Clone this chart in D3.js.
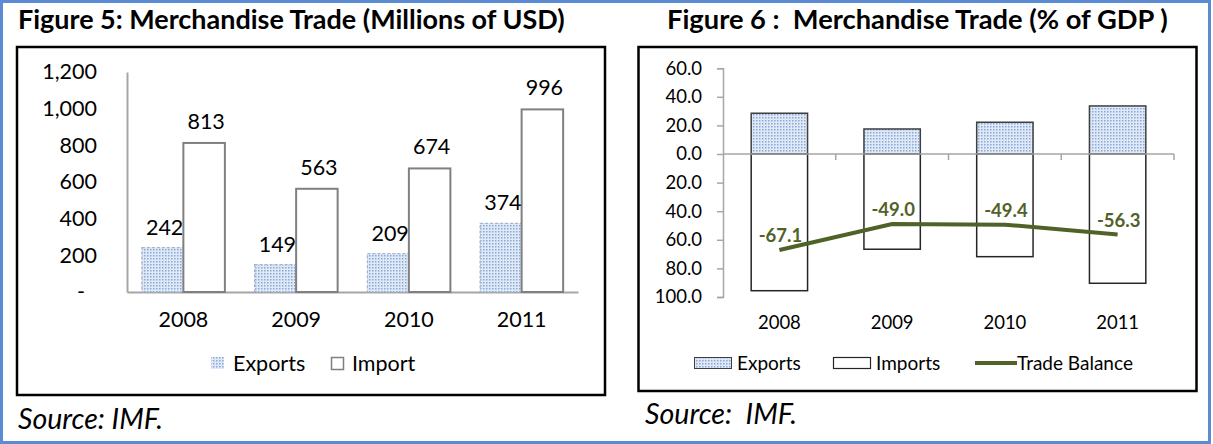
<!DOCTYPE html>
<html>
<head>
<meta charset="utf-8">
<style>
  body { margin: 0; background: #fff; }
  svg { font-family: Lato, "Open Sans", sans-serif; }
  .axis path, .axis line { stroke: #a6a6a6; }
  .axis text { fill: #000; }
</style>
</head>
<body>
<script src="https://cdn.jsdelivr.net/npm/d3@7"></script>
<script>
// data
var years = ["2008", "2009", "2010", "2011"];
var exportsUSD = [242, 149, 209, 374];
var importsUSD = [813, 563, 674, 996];
var usdTicks = [0, 200, 400, 600, 800, 1000, 1200];

var exportsGDP = [28.5, 17.5, 22.2, 33.6];
var importsGDP = [95.6, 66.6, 71.8, 90.4];
var balanceGDP = [-67.1, -49.0, -49.4, -56.3];
var gdpTicks = [60, 40, 20, 0, -20, -40, -60, -80, -100];

var green = "#4f6228";
// plain hyphen for negative numbers, like the original
var fmt1 = d3.formatLocale({ decimal: ".", thousands: ",", grouping: [3], currency: ["", ""], minus: "-" }).format(".1f");

var svg = d3.select("body").append("svg")
    .attr("width", 1213)
    .attr("height", 444);

// dotted fill used for exports
var defs = svg.append("defs");
var pat = defs.append("pattern")
    .attr("id", "dots")
    .attr("patternUnits", "userSpaceOnUse")
    .attr("width", 3).attr("height", 3);
pat.append("rect").attr("width", 3).attr("height", 3).attr("fill", "#e0e9f5");
pat.append("rect").attr("width", 1.5).attr("height", 1.5).attr("fill", "#86a9da");

// outer blue border
svg.append("rect")
    .attr("x", 1.5).attr("y", 1.5)
    .attr("width", 1208).attr("height", 441)
    .attr("fill", "#fff")
    .attr("stroke", "#5b8bd3")
    .attr("stroke-width", 3);

// make a text fill a given width
function fit(sel, w) {
    var fs = parseFloat(sel.attr("font-size"));
    var len = sel.node().getComputedTextLength();
    sel.attr("font-size", fs * w / len);
}

// ---------------- Figure 5 ----------------
var t5 = svg.append("text")
    .attr("x", 18).attr("y", 29)
    .attr("font-size", 24).attr("font-weight", "bold")
    .text("Figure 5: Merchandise Trade (Millions of USD)");
fit(t5, 547);

svg.append("rect")
    .attr("x", 17).attr("y", 47)
    .attr("width", 588).attr("height", 348)
    .attr("fill", "none").attr("stroke", "#000").attr("stroke-width", 2.5);

var x0 = d3.scaleBand().domain(years).range([127, 578]);
var x1 = d3.scaleBand().domain(["exp", "imp"]).range([0, x0.bandwidth()]).paddingOuter(0.358);
var y5 = d3.scaleLinear().domain([0, 1200]).range([292, 72]);

var yAxis5 = svg.append("g")
    .attr("class", "axis")
    .attr("transform", "translate(127,0)")
    .call(d3.axisLeft(y5).tickValues(usdTicks).tickSize(0).tickPadding(30)
        .tickFormat(function (d) { return d === 0 ? "-" : d3.format(",")(d); }));
yAxis5.select(".domain").attr("stroke-width", 2);
yAxis5.selectAll("text").attr("font-size", 21.5).attr("font-family", "Lato")
    .attr("dx", function (d) { return d === 0 ? -12 : 0; });

var xAxis5 = svg.append("g")
    .attr("class", "axis")
    .attr("transform", "translate(0,292)")
    .call(d3.axisBottom(x0).tickSize(0).tickPadding(20).tickSizeOuter(0));
xAxis5.select(".domain").attr("stroke-width", 2);
xAxis5.selectAll("text").attr("font-size", 21.5).attr("font-family", "Lato");

var g5 = svg.append("g");
years.forEach(function (yr, i) {
    var bx = x0(yr);
    g5.append("rect")
        .attr("x", bx + x1("exp")).attr("y", y5(exportsUSD[i]))
        .attr("width", x1.bandwidth()).attr("height", y5(0) - y5(exportsUSD[i]))
        .attr("fill", "url(#dots)")
        .attr("stroke", "#a9b4c6").attr("stroke-width", 1.2)
        .attr("stroke-dasharray", "3,2");
    g5.append("rect")
        .attr("x", bx + x1("imp")).attr("y", y5(importsUSD[i]))
        .attr("width", x1.bandwidth()).attr("height", y5(0) - y5(importsUSD[i]))
        .attr("fill", "#fff")
        .attr("stroke", "#808080").attr("stroke-width", 2);
    g5.append("text")
        .attr("x", bx + x1("exp") + x1.bandwidth() / 2 + 2)
        .attr("y", y5(exportsUSD[i]) - 13)
        .attr("text-anchor", "middle").attr("font-size", 21.5)
        .text(exportsUSD[i]);
    g5.append("text")
        .attr("x", bx + x1("imp") + x1.bandwidth() / 2 + 2)
        .attr("y", y5(importsUSD[i]) - 14)
        .attr("text-anchor", "middle").attr("font-size", 21.5)
        .text(importsUSD[i]);
});

// legend
svg.append("rect").attr("x", 211).attr("y", 357).attr("width", 13).attr("height", 12)
    .attr("fill", "url(#dots)");
svg.append("text").attr("x", 233).attr("y", 371).attr("font-size", 21.5).text("Exports");
svg.append("rect").attr("x", 331.5).attr("y", 357.5).attr("width", 12).attr("height", 12)
    .attr("fill", "#fff").attr("stroke", "#808080").attr("stroke-width", 1.5);
svg.append("text").attr("x", 352).attr("y", 371).attr("font-size", 21.5).text("Import");

var s5 = svg.append("text")
    .attr("x", 18).attr("y", 429)
    .attr("font-size", 24).attr("font-style", "italic")
    .text("Source: IMF.");
fit(s5, 145);

// ---------------- Figure 6 ----------------
var t6 = svg.append("text")
    .attr("x", 667).attr("y", 29)
    .attr("font-size", 24).attr("font-weight", "bold")
    .style("white-space", "pre")
    .text("Figure 6 :  Merchandise Trade (% of GDP )");
fit(t6, 501);

svg.append("rect")
    .attr("x", 638.5).attr("y", 47)
    .attr("width", 558).attr("height", 344)
    .attr("fill", "none").attr("stroke", "#000").attr("stroke-width", 2.5);

var x6 = d3.scaleBand().domain(years).range([723, 1174]).paddingInner(0.5).paddingOuter(0.25);
var y6 = d3.scaleLinear().domain([-100, 60]).range([297, 68.2]);

var yAxis6 = svg.append("g")
    .attr("class", "axis")
    .attr("transform", "translate(723,0)")
    .call(d3.axisLeft(y6).tickValues(gdpTicks).tickSize(6).tickPadding(15)
        .tickFormat(function (d) { return fmt1(Math.abs(d)); }));
yAxis6.select(".domain").attr("stroke-width", 1.5);
yAxis6.selectAll("line").attr("stroke-width", 1.5);
yAxis6.selectAll("text").attr("font-size", 18.5).attr("font-family", "Lato");

var g6 = svg.append("g");
years.forEach(function (yr, i) {
    g6.append("rect")
        .attr("x", x6(yr)).attr("y", y6(exportsGDP[i]))
        .attr("width", x6.bandwidth()).attr("height", y6(0) - y6(exportsGDP[i]))
        .attr("fill", "url(#dots)")
        .attr("stroke", "#404040").attr("stroke-width", 1.5);
    g6.append("rect")
        .attr("x", x6(yr)).attr("y", y6(0))
        .attr("width", x6.bandwidth()).attr("height", y6(-importsGDP[i]) - y6(0))
        .attr("fill", "#fff")
        .attr("stroke", "#262626").attr("stroke-width", 1.5);
});

// zero line with ticks at category boundaries
var zero = svg.append("g").attr("class", "axis");
zero.append("line")
    .attr("x1", 723).attr("x2", 1174)
    .attr("y1", y6(0)).attr("y2", y6(0))
    .attr("stroke-width", 1.5);
years.forEach(function (yr) {
    var bx = x6(yr) + x6.bandwidth() + x6.step() * 0.25;
    zero.append("line")
        .attr("x1", bx).attr("x2", bx)
        .attr("y1", y6(0)).attr("y2", y6(0) + 6)
        .attr("stroke-width", 1.5);
});

// category labels along the bottom
var xAxis6 = svg.append("g")
    .attr("class", "axis")
    .attr("transform", "translate(0,316)")
    .call(d3.axisBottom(x6).tickSize(0).tickPadding(0));
xAxis6.select(".domain").remove();
xAxis6.selectAll("text").attr("font-size", 18.5).attr("font-family", "Lato");

// trade balance line
var line = d3.line()
    .x(function (d, i) { return x6(years[i]) + x6.bandwidth() / 2; })
    .y(function (d) { return y6(d); });
svg.append("path")
    .datum(balanceGDP)
    .attr("d", line)
    .attr("fill", "none")
    .attr("stroke", green)
    .attr("stroke-width", 4);

svg.selectAll(".bal")
    .data(balanceGDP)
    .enter().append("text")
    .attr("class", "bal")
    .attr("x", function (d, i) { return x6(years[i]) + x6.bandwidth() / 2 + 1; })
    .attr("y", function (d) { return y6(d) - 8; })
    .attr("text-anchor", "middle")
    .attr("font-size", 18.5).attr("font-weight", "bold")
    .attr("fill", green)
    .text(function (d) { return fmt1(d); });

// legend
svg.append("rect").attr("x", 694.5).attr("y", 357.5).attr("width", 37).attr("height", 11)
    .attr("fill", "url(#dots)").attr("stroke", "#404040").attr("stroke-width", 1);
svg.append("text").attr("x", 737).attr("y", 370).attr("font-size", 19).text("Exports");
svg.append("rect").attr("x", 833.5).attr("y", 357.5).attr("width", 37).attr("height", 11)
    .attr("fill", "#fff").attr("stroke", "#262626").attr("stroke-width", 1.2);
svg.append("text").attr("x", 876).attr("y", 370).attr("font-size", 19).text("Imports");
svg.append("line").attr("x1", 975).attr("x2", 1017).attr("y1", 363).attr("y2", 363)
    .attr("stroke", green).attr("stroke-width", 4);
svg.append("text").attr("x", 1017).attr("y", 370).attr("font-size", 19).text("Trade Balance");

var s6 = svg.append("text")
    .attr("x", 645).attr("y", 424)
    .attr("font-size", 24).attr("font-style", "italic")
    .style("white-space", "pre")
    .text("Source:  IMF.");
fit(s6, 152);
</script>
</body>
</html>
